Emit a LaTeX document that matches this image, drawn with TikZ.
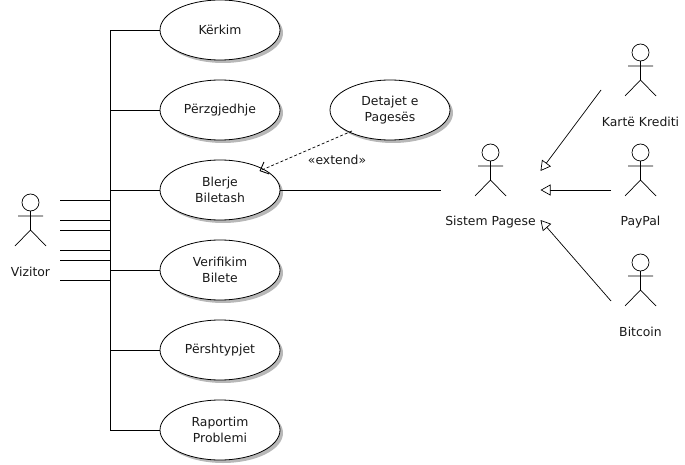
\documentclass[tikz,border=0pt]{standalone}
\usepackage{fontspec}
\setmainfont{DejaVu Sans}
\usetikzlibrary{arrows.meta,shapes.geometric,shadows}
\tikzset{
  every node/.style={font=\fontsize{12.4}{15.5}\selectfont,text=black!90,align=center},
  usecase/.style={ellipse,draw=black,line width=0.8pt,fill=white,minimum width=120pt,minimum height=60pt,inner sep=0pt,outer sep=0pt,
    general shadow={shadow xshift=3pt,shadow yshift=-3pt,fill=black!28}},
  actorfig/.pic={
    \draw[line width=0.7pt] (0,8.5) circle (8.5);
    \draw[line width=0.7pt] (0,17) -- (0,36) (-12.5,22) -- (12.5,22) (-15.5,52) -- (0,36) -- (15.5,52);
  },
  wire/.style={line width=0.8pt,draw=black},
  generalize/.style={line width=0.7pt,draw=black,-{Triangle[open,length=10pt,width=11pt,fill=white]}},
  extendline/.style={line width=0.7pt,draw=black,dash pattern=on 3pt off 2pt,-{Straight Barb[length=7pt,width=13pt,line width=0.9pt]}},
}
\begin{document}
\begin{tikzpicture}[x=1pt,y=-1pt]
\useasboundingbox (0,0) rectangle (685,465);
% use cases
\node[usecase] (kerkim) at (220,30) {Kërkim};
\node[usecase] (perzgjedhje) at (220,110) {Përzgjedhje};
\node[usecase] (blerje) at (220,190) {Blerje\\Biletash};
\node[usecase] (verifikim) at (220,270) {Verifikim\\Bilete};
\node[usecase] (pershtypjet) at (220,350) {Përshtypjet};
\node[usecase] (raportim) at (220,430) {Raportim\\Problemi};
\node[usecase] (detajet) at (390,110) {Detajet e\\Pagesës};
% actors
\pic at (30.5,194) {actorfig};
\pic at (490.5,144) {actorfig};
\pic at (640.5,44) {actorfig};
\pic at (640.5,144) {actorfig};
\pic at (640.5,254) {actorfig};
\node (vizitor) at (30.5,272) {Vizitor};
\node (sistem) at (490.5,222) {Sistem Pagese};
\node (karte) at (640.5,122) {Kartë Krediti};
\node (paypal) at (640.5,222) {PayPal};
\node (bitcoin) at (640.5,332) {Bitcoin};
% bus
\coordinate (bustop) at (110,30);
\coordinate (busbottom) at (110,430);
\draw[wire] (kerkim.west) -- (bustop) -- (busbottom) -- (raportim.west);
\foreach \n/\yy in {perzgjedhje/110,blerje/190,verifikim/270,pershtypjet/350}
  \draw[wire] (\n.west) -- (110,\yy);
\foreach \yy in {200,220,230,250,260,280}
  \draw[wire] (60,\yy) -- (110,\yy);
% system
\coordinate (sistemin) at (441,190);
\draw[wire] (blerje.east) -- (sistemin);
% extend
\coordinate (extstart) at (352,131);
\coordinate (extend) at (259.5,171);
\draw[extendline] (extstart) -- (extend);
\node (extlabel) at (337,160) {«extend»};
% generalizations
\coordinate (kfrom) at (601,90);
\coordinate (kto) at (540.5,171);
\coordinate (pfrom) at (611,190);
\coordinate (pto) at (540.5,190);
\coordinate (bfrom) at (611,301);
\coordinate (bto) at (540.5,220);
\draw[generalize] (kfrom) -- (kto);
\draw[generalize] (pfrom) -- (pto);
\draw[generalize] (bfrom) -- (bto);
\end{tikzpicture}
\end{document}
